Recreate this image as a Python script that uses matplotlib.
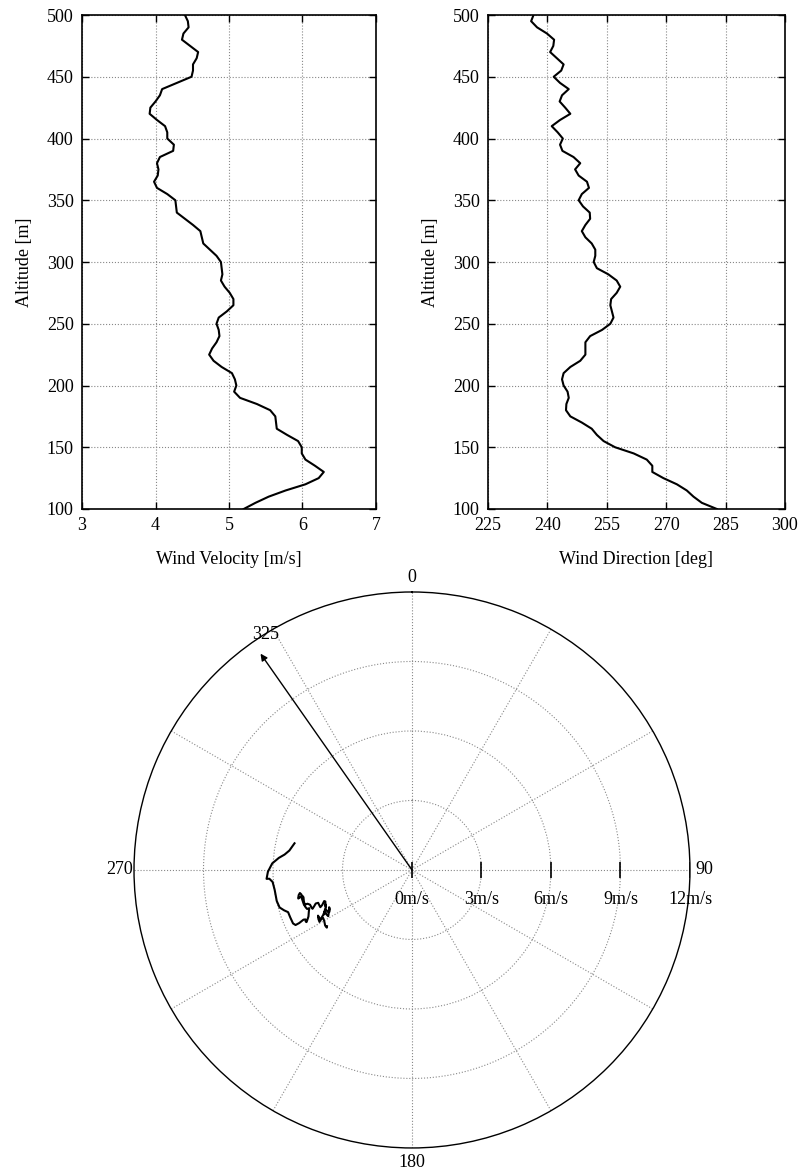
import numpy as np
import matplotlib
matplotlib.use("Agg")
import matplotlib.pyplot as plt

plt.rcParams['font.family'] = ['Liberation Serif', 'DejaVu Serif']
plt.rcParams['font.size'] = 13

# altitude grid of the sounding [m]
altitude = list(range(100, 505, 5))

# wind speed [m/s], 100 m .. 500 m
wind_speed = [5.20, 5.36, 5.54, 5.77, 6.04, 6.22, 6.29, 6.17, 6.04, 5.99,
              5.99, 5.94, 5.79, 5.65, 5.64, 5.63, 5.56, 5.38, 5.15, 5.07,
              5.10, 5.08, 5.04, 4.90, 4.79, 4.73, 4.77, 4.83, 4.87, 4.86,
              4.83, 4.86, 4.97, 5.06, 5.06, 5.01, 4.94, 4.89, 4.91, 4.90,
              4.89, 4.83, 4.74, 4.65, 4.63, 4.61, 4.51, 4.40, 4.29, 4.28,
              4.27, 4.16, 4.02, 3.98, 4.03, 4.04, 4.02, 4.06, 4.24, 4.25,
              4.16, 4.16, 4.13, 4.02, 3.92, 3.93, 4.00, 4.06, 4.09, 4.29,
              4.49, 4.51, 4.51, 4.56, 4.58, 4.47, 4.36, 4.38, 4.45, 4.44,
              4.40]

# wind direction [deg], 100 m .. 500 m
wind_dir = [282.8, 279.0, 276.9, 275.2, 272.7, 269.3, 266.5, 266.5, 265.1, 261.8,
            257.1, 254.2, 252.5, 251.2, 248.7, 245.8, 244.7, 244.8, 245.4, 245.1,
            244.1, 243.7, 244.1, 245.8, 248.3, 249.6, 249.6, 249.6, 250.8, 253.8,
            255.9, 256.7, 256.3, 255.9, 256.1, 257.5, 258.4, 257.5, 255.4, 252.5,
            251.7, 252.1, 252.1, 251.2, 249.6, 248.7, 249.6, 250.8, 250.7, 249.0,
            247.9, 248.7, 250.5, 250.0, 247.9, 247.0, 248.3, 246.6, 243.8, 243.2,
            243.9, 242.6, 241.1, 243.2, 245.8, 244.5, 243.1, 243.7, 245.4, 243.2,
            241.6, 243.5, 244.1, 242.4, 240.7, 241.5, 241.7, 239.9, 237.4, 235.9,
            236.5]

speed_ticks = [3, 4, 5, 6, 7]
dir_ticks = [225, 240, 255, 270, 285, 300]
alt_ticks = [100, 150, 200, 250, 300, 350, 400, 450, 500]

radial_ticks = [0, 3, 6, 9, 12]
radial_labels = ['0m/s', '3m/s', '6m/s', '9m/s', '12m/s']
compass_labels = {0: '0', 90: '90', 180: '180', 270: '270'}
arrow_dir = 325
arrow_len = 11.4

grid_kw = dict(color='#888888', linestyle=':', linewidth=0.8)

fig = plt.figure(figsize=(8.01, 11.72), dpi=100)


def profile_axes(rect, x, xticks, xlabel):
    ax = fig.add_axes(rect)
    ax.plot(x, altitude, color='black', linewidth=1.5)
    ax.set_xlim(xticks[0], xticks[-1])
    ax.set_ylim(100, 500)
    ax.set_xticks(xticks)
    ax.set_yticks(alt_ticks)
    ax.set_xlabel(xlabel, labelpad=12)
    ax.set_ylabel('Altitude [m]', labelpad=10)
    ax.grid(True, **grid_kw)
    ax.tick_params(direction='in', length=5, width=1, top=True, right=True, pad=6)
    for s in ax.spines.values():
        s.set_linewidth(1.2)
    return ax


profile_axes([0.1024, 0.5657, 0.367, 0.4215], wind_speed, speed_ticks, 'Wind Velocity [m/s]')
profile_axes([0.6092, 0.5657, 0.3708, 0.4215], wind_dir, dir_ticks, 'Wind Direction [deg]')

# hodograph-like polar view
pax = fig.add_axes([0.1673, 0.0205, 0.6941, 0.4744], projection='polar')
pax.set_theta_zero_location('N')
pax.set_theta_direction(-1)
pax.set_rlim(0, 12)
pax.set_rticks([3, 6, 9])
pax.set_yticklabels([])
angles = list(range(0, 360, 30))
pax.set_thetagrids(angles, labels=[compass_labels.get(a, '') for a in angles])
pax.tick_params(axis='x', pad=0)
pax.grid(True, **grid_kw)
pax.spines['polar'].set_linewidth(1.0)

pax.plot(np.radians(wind_dir), wind_speed, color='black', linewidth=1.5)

# radial scale along the 90 deg line
for r, lab in zip(radial_ticks, radial_labels):
    pax.plot(np.radians(90), r, marker='|', markersize=11, mew=1.2, color='black')
    pax.annotate(lab, xy=(np.radians(90), r), xytext=(0, -21), textcoords='offset points',
                 ha='center', va='center')

pax.annotate('', xy=(np.radians(arrow_dir), arrow_len), xytext=(0, 0),
             arrowprops=dict(arrowstyle='-|>', color='black', lw=1.0, mutation_scale=10,
                             shrinkA=0, shrinkB=0))
pax.annotate(str(arrow_dir), xy=(np.radians(arrow_dir), arrow_len), xytext=(4, 8),
             textcoords='offset points', ha='center', va='bottom')

fig.savefig('out.png', dpi=100)
